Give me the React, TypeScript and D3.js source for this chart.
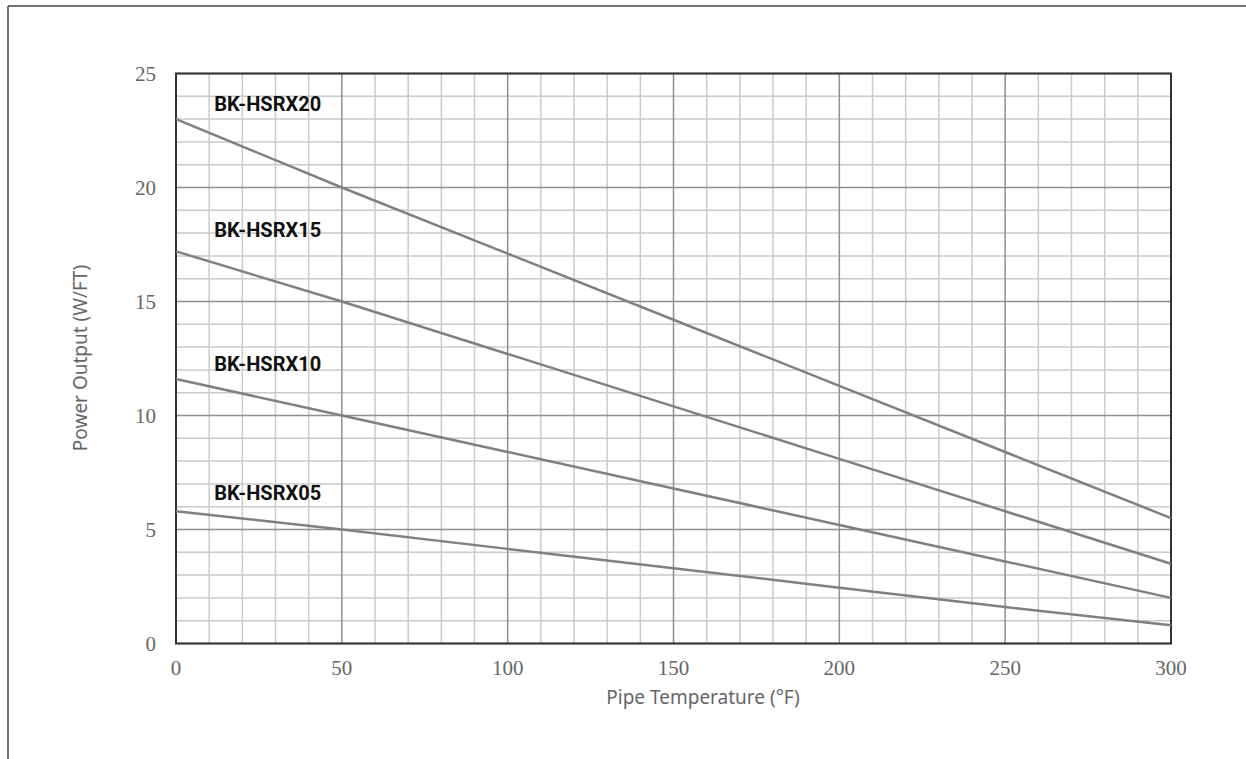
import React from "react";
import * as d3 from "d3";

const temps = [0, 50, 100, 150, 200, 250, 300];
const seriesNames = ["BK-HSRX20", "BK-HSRX15", "BK-HSRX10", "BK-HSRX05"];
const hsrx20 = [23, 20, 17.1, 14.2, 11.3, 8.4, 5.5];
const hsrx15 = [17.2, 15, 12.7, 10.4, 8.1, 5.8, 3.5];
const hsrx10 = [11.6, 10, 8.4, 6.8, 5.2, 3.6, 2.0];
const hsrx05 = [5.8, 5.0, 4.15, 3.3, 2.45, 1.6, 0.8];
const seriesValues = [hsrx20, hsrx15, hsrx10, hsrx05];
const labelX = 11.5;
const labelY = [23.66, 18.14, 12.26, 6.6];
const xTicks = [0, 50, 100, 150, 200, 250, 300];
const yTicks = [0, 5, 10, 15, 20, 25];

export default function App() {
  const W = 1246, H = 759;
  const left = 176, right = 1171, top = 73.5, bottom = 643.5;
  const x = d3.scaleLinear().domain([0, 300]).range([left, right]);
  const y = d3.scaleLinear().domain([0, 25]).range([bottom, top]);
  const line = d3.line<number>().x((_, i) => x(temps[i])).y((v) => y(v));
  const minorX = d3.range(0, 301, 10);
  const minorY = d3.range(0, 26, 1);

  return (
    <svg width={W} height={H} style={{ position: "absolute", left: 0, top: 0, background: "#fff" }}>
      <rect x={0} y={0} width={W} height={H} fill="#fff" />
      <line x1={8} y1={6} x2={W} y2={6} stroke="#444" strokeWidth={1.5} />
      <line x1={8} y1={6} x2={8} y2={H} stroke="#444" strokeWidth={1.5} />
      {minorX.filter((v) => v % 50 !== 0).map((v) => (
        <line key={"mx" + v} x1={x(v)} x2={x(v)} y1={top} y2={bottom} stroke="#cacaca" strokeWidth={1.5} />
      ))}
      {minorY.filter((v) => v % 5 !== 0).map((v) => (
        <line key={"my" + v} x1={left} x2={right} y1={y(v)} y2={y(v)} stroke="#cacaca" strokeWidth={1.5} />
      ))}
      {xTicks.map((v) => (
        <line key={"Mx" + v} x1={x(v)} x2={x(v)} y1={top} y2={bottom} stroke="#8f8f8f" strokeWidth={1.5} />
      ))}
      {yTicks.map((v) => (
        <line key={"My" + v} x1={left} x2={right} y1={y(v)} y2={y(v)} stroke="#8f8f8f" strokeWidth={1.5} />
      ))}
      <rect x={left} y={top} width={right - left} height={bottom - top} fill="none" stroke="#333" strokeWidth={2} />
      {seriesValues.map((vals, i) => (
        <path key={"s" + i} d={line(vals) || ""} fill="none" stroke="#808080" strokeWidth={2.5} />
      ))}
      {seriesNames.map((n, i) => (
        <text key={"l" + i} x={x(labelX)} y={y(labelY[i])} dy="0.35em" fontFamily="Roboto" fontWeight="bold" fontSize={20} fill="#111">
          {n}
        </text>
      ))}
      {yTicks.map((v) => (
        <text key={"yt" + v} x={156} y={y(v)} dy="0.35em" textAnchor="end" fontFamily="Liberation Serif" fontSize={21} fill="#666">
          {v}
        </text>
      ))}
      {xTicks.map((v) => (
        <text key={"xt" + v} x={x(v)} y={668} dy="0.35em" textAnchor="middle" fontFamily="Liberation Serif" fontSize={21} fill="#666">
          {v}
        </text>
      ))}
      <text x={703} y={697} dy="0.35em" textAnchor="middle" fontFamily="Noto Sans" fontSize={19} fill="#666">
        Pipe Temperature (°F)
      </text>
      <text transform="translate(80,358) rotate(-90)" dy="0.35em" textAnchor="middle" fontFamily="Noto Sans" fontSize={19} fill="#666">
        Power Output (W/FT)
      </text>
    </svg>
  );
}
